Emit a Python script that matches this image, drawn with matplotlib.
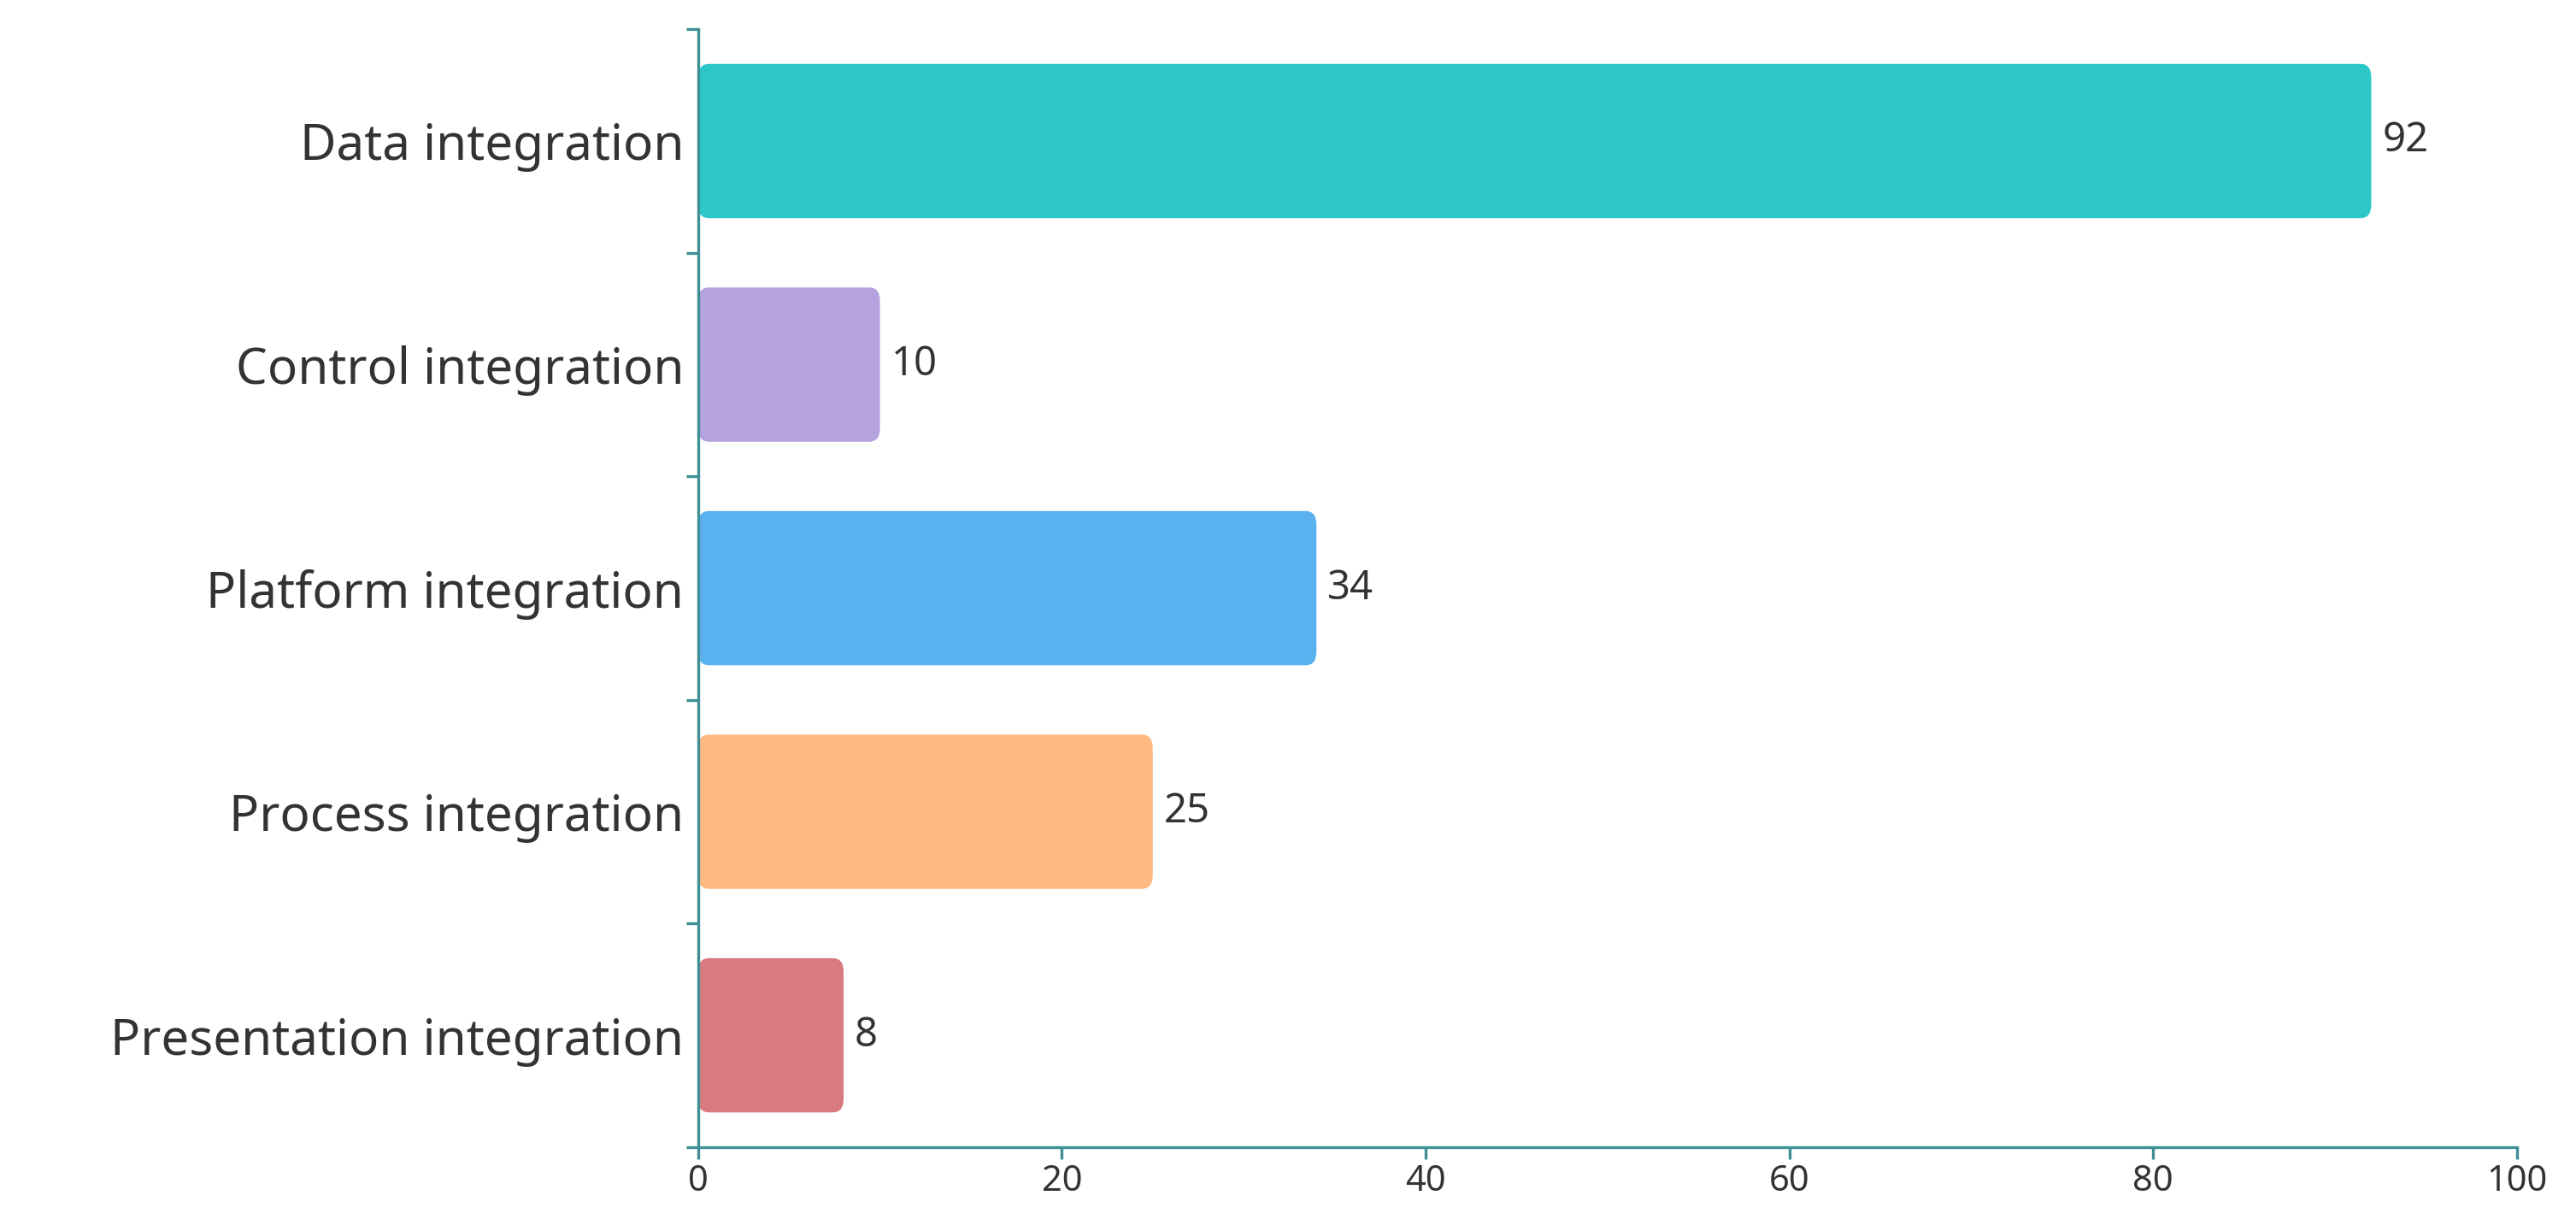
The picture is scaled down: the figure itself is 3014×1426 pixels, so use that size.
import matplotlib as mpl
mpl.use("Agg")
import matplotlib.pyplot as plt
from matplotlib.patches import FancyBboxPatch

categories = ["Data integration", "Control integration", "Platform integration",
              "Process integration", "Presentation integration"]
values = [92, 10, 34, 25, 8]
colors = ["#2EC7C9", "#B6A2DE", "#5AB1EF", "#FFB980", "#D87A80"]

plt.rcParams['font.family'] = ['Noto Sans', 'DejaVu Sans']
TEXT = "#333333"
AXIS = "#3f8f95"

fig = plt.figure(figsize=(15.07, 7.13), dpi=200)
ax = fig.add_axes([0.271, 0.059, 0.706, 0.917])

n = len(categories)
ys = list(range(n))[::-1]
h = 0.69
for y, v, c in zip(ys, values, colors):
    ax.add_patch(FancyBboxPatch((0, y - h / 2), v, h,
                                boxstyle="round,pad=0,rounding_size=0.6",
                                mutation_aspect=0.1, facecolor=c, edgecolor="none"))
    ax.text(v + 0.6, y, str(v), va="center", ha="left", fontsize=17, color=TEXT)

ax.set_xlim(0, 100)
ax.set_ylim(-0.5, n - 0.5)
ax.set_xticks([0, 20, 40, 60, 80, 100])
ax.set_yticks(ys)
ax.set_yticklabels(categories, fontsize=21, color=TEXT)
ax.set_yticks([i - 0.5 for i in range(n + 1)], minor=True)
ax.tick_params(axis='y', which='major', length=0, pad=6)
ax.tick_params(axis='y', which='minor', length=5, color=AXIS, width=1.2)
ax.tick_params(axis='x', length=5, color=AXIS, width=1.2, labelsize=15, labelcolor=TEXT, pad=2)

for s in ["top", "right"]:
    ax.spines[s].set_visible(False)
for s in ["left", "bottom"]:
    ax.spines[s].set_color(AXIS)
    ax.spines[s].set_linewidth(1.2)

fig.savefig("out.png", dpi=200)
